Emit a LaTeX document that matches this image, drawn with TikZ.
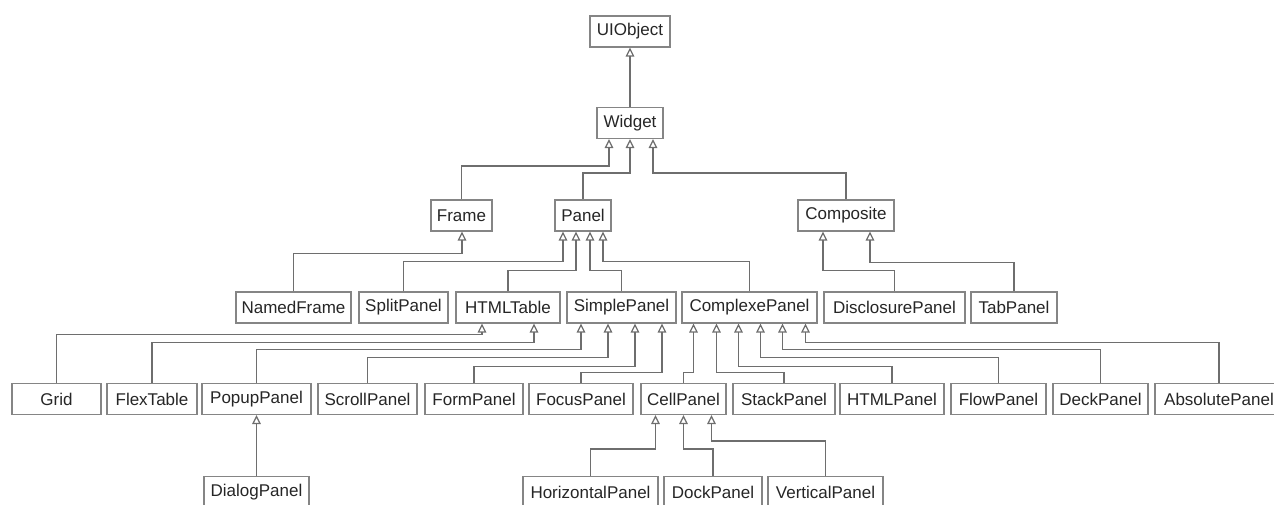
\documentclass[tikz,border=0pt]{standalone}
\usepackage{fontspec}
\setmainfont{Liberation Sans}
\usepackage{tikz}
\usetikzlibrary{arrows.meta}
\definecolor{uiborder}{HTML}{858585}
\definecolor{uiline}{HTML}{6E6E6E}
\definecolor{uitext}{HTML}{262626}

\begin{document}
\begin{tikzpicture}[x=1pt, y=-1pt, font=\fontsize{17}{19}\selectfont,
    cls/.style={draw=uiborder, line width=1.1pt, fill=white, text=uitext, minimum height=31pt, inner sep=0pt},
    isa/.style={draw=uiline, line width=1.2pt, -{Triangle[open, length=9pt, width=8.5pt]}}]
  \useasboundingbox (0,0) rectangle (1274,504);
  \clip (0,0) rectangle (1274,504);

  % classes
  \node[cls, minimum width=80pt] (uiobject) at (630,31.5) {UIObject};
  \node[cls, minimum width=66pt] (widget) at (630,123) {Widget};

  \node[cls, minimum width=61pt] (frame) at (461.5,215.5) {Frame};
  \node[cls, minimum width=56pt] (panel) at (583,215.5) {Panel};
  \node[cls, minimum width=96pt] (composite) at (846,215.5) {Composite};

  \node[cls, minimum width=115pt] (namedframe) at (293.5,307.5) {NamedFrame};
  \node[cls, minimum width=89pt] (splitpanel) at (403.5,307.5) {SplitPanel};
  \node[cls, minimum width=104pt] (htmltable) at (508,307.5) {HTMLTable};
  \node[cls, minimum width=109pt] (simplepanel) at (621.5,307.5) {SimplePanel};
  \node[cls, minimum width=135pt] (complexepanel) at (749.5,307.5) {ComplexePanel};
  \node[cls, minimum width=141pt] (disclosurepanel) at (894.5,307.5) {DisclosurePanel};
  \node[cls, minimum width=86pt] (tabpanel) at (1014,307.5) {TabPanel};

  \node[cls, minimum width=89pt] (grid) at (56.5,399) {Grid};
  \node[cls, minimum width=90pt] (flextable) at (152,399) {FlexTable};
  \node[cls, minimum width=109pt] (popuppanel) at (256.5,399) {PopupPanel};
  \node[cls, minimum width=99pt] (scrollpanel) at (367.5,399) {ScrollPanel};
  \node[cls, minimum width=98pt] (formpanel) at (474,399) {FormPanel};
  \node[cls, minimum width=104pt] (focuspanel) at (581,399) {FocusPanel};
  \node[cls, minimum width=85pt] (cellpanel) at (683.5,399) {CellPanel};
  \node[cls, minimum width=102pt] (stackpanel) at (784,399) {StackPanel};
  \node[cls, minimum width=104pt] (htmlpanel) at (892,399) {HTMLPanel};
  \node[cls, minimum width=95pt] (flowpanel) at (998.5,399) {FlowPanel};
  \node[cls, minimum width=95pt] (deckpanel) at (1100.5,399) {DeckPanel};
  \node[cls, minimum width=128pt] (absolutepanel) at (1219,399) {AbsolutePanel};

  \node[cls, minimum width=105pt] (dialogpanel) at (256.5,492) {DialogPanel};
  \node[cls, minimum width=135pt] (horizontalpanel) at (590.5,492) {HorizontalPanel};
  \node[cls, minimum width=98pt] (dockpanel) at (713,492) {DockPanel};
  \node[cls, minimum width=115pt] (verticalpanel) at (825.5,492) {VerticalPanel};

  % inheritance
  \draw[isa] (widget.north) -- (uiobject.south);

  \draw[isa] (frame.north) |- ([xshift=-21pt, yshift=-27pt]widget.south) -- ([xshift=-21pt]widget.south);
  \draw[isa] (panel.north) |- ([yshift=-34pt]widget.south) -- (widget.south);
  \draw[isa] (composite.north) |- ([xshift=23pt, yshift=-34pt]widget.south) -- ([xshift=23pt]widget.south);

  \draw[isa] (namedframe.north) |- ([xshift=0.5pt, yshift=-22pt]frame.south) -- ([xshift=0.5pt]frame.south);
  \draw[isa] (splitpanel.north) |- ([xshift=-20pt, yshift=-30pt]panel.south) -- ([xshift=-20pt]panel.south);
  \draw[isa] (htmltable.north) |- ([xshift=-7pt, yshift=-39pt]panel.south) -- ([xshift=-7pt]panel.south);
  \draw[isa] (simplepanel.north) |- ([xshift=7pt, yshift=-39pt]panel.south) -- ([xshift=7pt]panel.south);
  \draw[isa] (complexepanel.north) |- ([xshift=20pt, yshift=-30pt]panel.south) -- ([xshift=20pt]panel.south);
  \draw[isa] (disclosurepanel.north) |- ([xshift=-23pt, yshift=-39pt]composite.south) -- ([xshift=-23pt]composite.south);
  \draw[isa] (tabpanel.north) |- ([xshift=24pt, yshift=-31pt]composite.south) -- ([xshift=24pt]composite.south);

  \draw[isa] (grid.north) |- ([xshift=-26pt, yshift=-11pt]htmltable.south) -- ([xshift=-26pt]htmltable.south);
  \draw[isa] (flextable.north) |- ([xshift=26pt, yshift=-19pt]htmltable.south) -- ([xshift=26pt]htmltable.south);
  \draw[isa] (popuppanel.north) |- ([xshift=-40.5pt, yshift=-26pt]simplepanel.south) -- ([xshift=-40.5pt]simplepanel.south);
  \draw[isa] (scrollpanel.north) |- ([xshift=-13.5pt, yshift=-34pt]simplepanel.south) -- ([xshift=-13.5pt]simplepanel.south);
  \draw[isa] (formpanel.north) |- ([xshift=13.5pt, yshift=-43pt]simplepanel.south) -- ([xshift=13.5pt]simplepanel.south);
  \draw[isa] (focuspanel.north) |- ([xshift=40.5pt, yshift=-49pt]simplepanel.south) -- ([xshift=40.5pt]simplepanel.south);
  \draw[isa] (cellpanel.north) |- ([xshift=-56pt, yshift=-49pt]complexepanel.south) -- ([xshift=-56pt]complexepanel.south);
  \draw[isa] (stackpanel.north) |- ([xshift=-33pt, yshift=-49pt]complexepanel.south) -- ([xshift=-33pt]complexepanel.south);
  \draw[isa] (htmlpanel.north) |- ([xshift=-11pt, yshift=-43pt]complexepanel.south) -- ([xshift=-11pt]complexepanel.south);
  \draw[isa] (flowpanel.north) |- ([xshift=11pt, yshift=-34pt]complexepanel.south) -- ([xshift=11pt]complexepanel.south);
  \draw[isa] (deckpanel.north) |- ([xshift=33pt, yshift=-26pt]complexepanel.south) -- ([xshift=33pt]complexepanel.south);
  \draw[isa] (absolutepanel.north) |- ([xshift=56pt, yshift=-19pt]complexepanel.south) -- ([xshift=56pt]complexepanel.south);

  \draw[isa] (dialogpanel.north) -- (popuppanel.south);
  \draw[isa] (horizontalpanel.north) |- ([xshift=-28pt, yshift=-34pt]cellpanel.south) -- ([xshift=-28pt]cellpanel.south);
  \draw[isa] (dockpanel.north) |- ([yshift=-34pt]cellpanel.south) -- (cellpanel.south);
  \draw[isa] (verticalpanel.north) |- ([xshift=28pt, yshift=-26pt]cellpanel.south) -- ([xshift=28pt]cellpanel.south);
\end{tikzpicture}
\end{document}
